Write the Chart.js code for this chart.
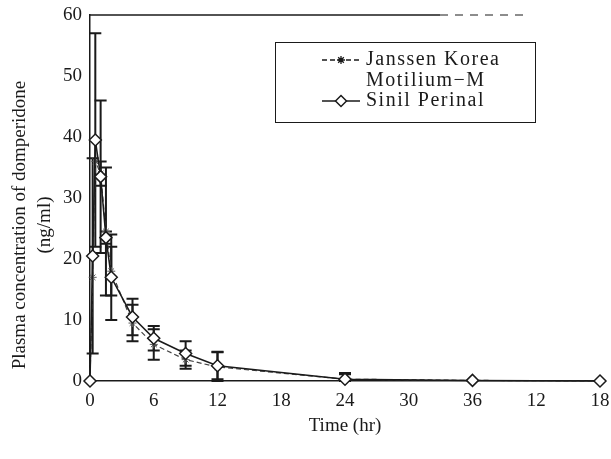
<!DOCTYPE html>
<html>
<head>
<meta charset="utf-8">
<script src="https://cdn.jsdelivr.net/npm/chart.js@4"></script>
<style>
  html, body { margin: 0; padding: 0; background: #fff; }
  #wrap { width: 611px; height: 459px; }
</style>
</head>
<body>
<div id="wrap"><canvas id="myChart" width="611" height="459"></canvas></div>
<script>
const times = [0, 0.25, 0.5, 1, 1.5, 2, 4, 6, 9, 12, 24, 36, 48];
const sinil = [0, 20.5, 39.5, 33.5, 23.5, 17, 10.5, 7, 4.5, 2.5, 0.3, 0.1, 0];
const sinilSD = [0, 16, 17.5, 12.5, 1, 7, 3, 2, 2, 2.2, 1, 0, 0];
const janssen = [0, 17, 36, 34, 24.5, 18, 9.5, 6, 3.5, 2.3, 0.3, 0.1, 0];
const janssenSD = [0, 0, 0, 2, 10.5, 4, 3, 2.5, 1.5, 2.5, 0.8, 0, 0];
const xTickLabels = ['0', '6', '12', '18', '24', '30', '36', '12', '18'];
const yTickLabels = ['0', '10', '20', '30', '40', '50', '60'];

const serif = "'Liberation Serif', 'DejaVu Serif', serif";
const ink = '#1a1a1a';

const toPoints = (vals) => times.map((t, i) => ({ x: t, y: vals[i] }));

// error bars, drawn under the markers
const errorBars = {
  id: 'errorBars',
  beforeDatasetsDraw(chart) {
    const { ctx, scales: { x, y } } = chart;
    const sets = [[sinil, sinilSD], [janssen, janssenSD]];
    ctx.save();
    ctx.strokeStyle = ink;
    sets.forEach(([vals, sd]) => {
      vals.forEach((v, i) => {
        if (!sd[i]) return;
        const px = x.getPixelForValue(times[i]);
        const top = y.getPixelForValue(v + sd[i]);
        const bot = y.getPixelForValue(Math.max(v - sd[i], 0));
        ctx.lineWidth = 2;
        ctx.beginPath();
        ctx.moveTo(px, top);
        ctx.lineTo(px, bot);
        ctx.moveTo(px - 6, top);
        ctx.lineTo(px + 6, top);
        ctx.moveTo(px - 6, bot);
        ctx.lineTo(px + 6, bot);
        ctx.stroke();
      });
    });
    ctx.restore();
  }
};

// frame top, y title and the boxed legend
const decor = {
  id: 'decor',
  afterDraw(chart) {
    const { ctx, chartArea: a } = chart;
    ctx.save();
    ctx.strokeStyle = ink;
    ctx.lineWidth = 1.5;
    ctx.beginPath();
    ctx.moveTo(a.left, a.top);
    ctx.lineTo(440, a.top);
    ctx.stroke();
    ctx.setLineDash([8, 7]);
    ctx.lineWidth = 1;
    ctx.beginPath();
    ctx.moveTo(440, a.top);
    ctx.lineTo(530, a.top);
    ctx.stroke();
    ctx.setLineDash([]);

    // y title
    ctx.fillStyle = ink;
    ctx.font = '19px ' + serif;
    ctx.textAlign = 'center';
    ctx.textBaseline = 'middle';
    ctx.translate(20, 225);
    ctx.rotate(-Math.PI / 2);
    ctx.fillText('Plasma concentration of domperidone', 0, 0);
    ctx.fillText('(ng/ml)', 0, 25);
    ctx.setTransform(1, 0, 0, 1, 0, 0);

    // legend box
    ctx.lineWidth = 1;
    ctx.strokeRect(275.5, 42.5, 260, 80);
    ctx.font = '20px ' + serif;
    ctx.textAlign = 'left';
    ctx.letterSpacing = '1.5px';
    ctx.fillText('Janssen Korea', 366, 60);
    ctx.fillText('Motilium\u2212M', 366, 81);
    ctx.fillText('Sinil Perinal', 366, 101);

    ctx.lineWidth = 1.3;
    ctx.setLineDash([5, 3]);
    ctx.beginPath();
    ctx.moveTo(322, 60);
    ctx.lineTo(360, 60);
    ctx.stroke();
    ctx.setLineDash([]);
    ctx.beginPath();
    ctx.moveTo(322, 101);
    ctx.lineTo(360, 101);
    ctx.stroke();
    // legend markers
    Chart.helpers.drawPoint(ctx, { pointStyle: 'star', radius: 4, rotation: 0, borderWidth: 1 }, 341, 60);
    ctx.fillStyle = '#fff';
    ctx.lineWidth = 1.5;
    Chart.helpers.drawPoint(ctx, { pointStyle: 'rectRot', radius: 5.5, rotation: 0, borderWidth: 1.5 }, 341, 101);
    ctx.restore();
  }
};

new Chart(document.getElementById('myChart'), {
  type: 'line',
  data: {
    datasets: [{
      label: 'Sinil Perinal',
      data: toPoints(sinil),
      borderColor: ink,
      borderWidth: 1.5,
      pointStyle: 'rectRot',
      pointRadius: 6,
      pointBorderWidth: 1.5,
      pointBackgroundColor: '#fff',
      pointBorderColor: ink,
      tension: 0,
      clip: false,
    }, {
      label: 'Janssen Korea Motilium-M',
      data: toPoints(janssen),
      borderColor: '#444',
      borderWidth: 1.2,
      borderDash: [5, 3],
      pointStyle: 'star',
      pointRadius: 4,
      pointBorderWidth: 1,
      pointBorderColor: '#555',
      pointBackgroundColor: '#fff',
      tension: 0,
      clip: false,
    }]
  },
  options: {
    responsive: false,
    animation: false,
    events: [],
    layout: { padding: { top: 15, right: 11, left: 0, bottom: 0 } },
    plugins: {
      legend: { display: false },
      tooltip: { enabled: false },
    },
    scales: {
      x: {
        type: 'linear',
        min: 0,
        max: 48,
        afterFit: (s) => { s.height = 78; },
        ticks: {
          stepSize: 6,
          color: ink,
          padding: 1,
          maxRotation: 0,
          font: { family: serif, size: 19 },
          callback: (v, i) => xTickLabels[i],
        },
        grid: { display: false },
        border: { color: ink, width: 1.5 },
        title: {
          display: true,
          text: 'Time (hr)',
          color: ink,
          font: { family: serif, size: 19 },
          padding: { top: 0, bottom: 22 },
        },
      },
      y: {
        min: 0,
        max: 60,
        afterFit: (s) => { s.width = 90; },
        ticks: {
          stepSize: 10,
          color: ink,
          padding: 0,
          font: { family: serif, size: 19 },
          callback: (v, i) => yTickLabels[i],
        },
        grid: { display: false },
        border: { color: ink, width: 1.5 },
      },
    },
  },
  plugins: [errorBars, decor],
});
</script>
</body>
</html>
